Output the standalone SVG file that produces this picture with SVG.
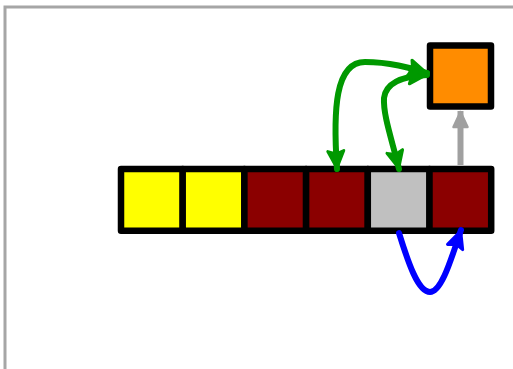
<svg xmlns="http://www.w3.org/2000/svg" width="513" height="369" viewBox="0 0 513 369">
<style>
.cell{stroke:#000;stroke-width:6.5;stroke-linejoin:round}
.g{fill:none;stroke:#009900;stroke-width:6;stroke-linecap:round}
</style>
<defs>
<marker id="ag" markerUnits="userSpaceOnUse" viewBox="-22 -11 24 22" refX="0" refY="0" markerWidth="24" markerHeight="22" orient="auto-start-reverse">
<path d="M-1,0 L-18,-8 L-15,0 L-18,8 Z" fill="#009900" stroke="#009900" stroke-width="3" stroke-linejoin="round"/>
</marker>
<marker id="ab" markerUnits="userSpaceOnUse" viewBox="-22 -11 24 22" refX="0" refY="0" markerWidth="24" markerHeight="22" orient="auto">
<path d="M-1,0 L-18,-8 L-15,0 L-18,8 Z" fill="#0000ff" stroke="#0000ff" stroke-width="3" stroke-linejoin="round"/>
</marker>
<marker id="ay" markerUnits="userSpaceOnUse" viewBox="-20 -10 22 20" refX="0" refY="0" markerWidth="22" markerHeight="20" orient="auto">
<path d="M-1,0 L-16,-7 L-16,7 Z" fill="#a0a0a0" stroke="#a0a0a0" stroke-width="2.5" stroke-linejoin="round"/>
</marker>
</defs>
<rect id="frame" x="5" y="7" width="600" height="500" fill="none" stroke="#a6a6a6" stroke-width="3"/>
<g id="cells">
<g id="c1"><rect class="cell" x="121" y="169" width="61.7" height="61.7" fill="#ffff00"/></g>
<g id="c2"><rect class="cell" x="182.7" y="169" width="61.7" height="61.7" fill="#ffff00"/></g>
<g id="c3"><rect class="cell" x="244.4" y="169" width="61.7" height="61.7" fill="#8b0000"/></g>
<g id="c4"><rect class="cell" x="306.1" y="169" width="61.7" height="61.7" fill="#8b0000"/></g>
<g id="c5"><rect class="cell" x="367.8" y="169" width="61.7" height="61.7" fill="#c0c0c0"/></g>
<g id="c6"><rect class="cell" x="429.5" y="169" width="61.7" height="61.7" fill="#8b0000"/></g>
</g>
<g id="top"><rect class="cell" x="430" y="45.5" width="61" height="61" fill="#ff8c00"/></g>
<g id="connectors">
<line x1="460.5" y1="165" x2="460.5" y2="111" stroke="#a0a0a0" stroke-width="6" marker-end="url(#ay)"/>
<path class="g" d="M337,169 C333,110 335,62 365,62 C390,62 410,68 427,73" marker-start="url(#ag)" marker-end="url(#ag)"/>
<path class="g" d="M399,169 C392,140 383,115 384,98 C386,82 405,76 427,75" marker-start="url(#ag)" marker-end="url(#ag)"/>
<path d="M399,233 C408,262 418,292 430,292 C442,292 452,256 461,230" fill="none" stroke="#0000ff" stroke-width="6" stroke-linecap="round" marker-end="url(#ab)"/>
</g>
</svg>
